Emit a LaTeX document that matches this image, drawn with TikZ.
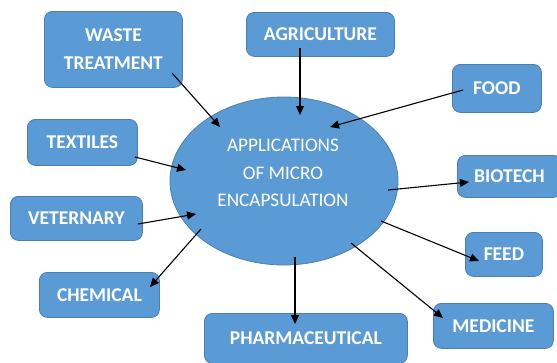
\documentclass[tikz,border=0pt]{standalone}
\usepackage{fontspec}
\setmainfont{Carlito}
\usetikzlibrary{arrows.meta,shapes.geometric}
\definecolor{boxfill}{HTML}{5B9BD5}
\definecolor{boxline}{HTML}{4A7EB0}
\begin{document}
\begin{tikzpicture}[x=1pt,y=-1pt,
  field/.style={draw=boxline,line width=0.8pt,fill=boxfill,rounded corners=8pt,
    text=white,font=\fontsize{19.5}{28}\selectfont\bfseries,align=center,
    inner sep=0pt,anchor=north west},
  hub/.style={draw=boxline,line width=0.8pt,fill=boxfill,ellipse,
    minimum width=228pt,minimum height=168pt,inner sep=0pt},
  hubtext/.style={text=white,font=\fontsize{19.2}{27.5}\selectfont,align=center,inner sep=0pt},
  arr/.style={-{Triangle[length=9pt,width=8pt]},line width=1.1pt,black}]
\useasboundingbox (0,0) rectangle (557,362);
\clip (0,0) rectangle (557,362);

% central ellipse and its title
\node[hub] (hub) at (284,181) {};
\node[hubtext] (title) at (283,173) {APPLICATIONS\\OF MICRO\\ENCAPSULATION};

% application boxes
\node[field,minimum width=138pt,minimum height=76pt] (waste) at (44,11) {WASTE\\TREATMENT};
\node[field,minimum width=148pt,minimum height=44pt] (agri) at (246,12) {AGRICULTURE};
\node[field,minimum width=89pt,minimum height=48pt] (food) at (452,64) {FOOD};
\node[field,minimum width=110pt,minimum height=46pt] (text) at (27,119) {TEXTILES};
\node[field,minimum width=104pt,minimum height=42pt] (bio) at (457,155) {BIOTECH};
\node[field,minimum width=132pt,minimum height=44pt] (vet) at (10,196) {VETERNARY};
\node[field,minimum width=77pt,minimum height=44pt] (feed) at (465,232) {FEED};
\node[field,minimum width=120pt,minimum height=45pt] (chem) at (39,272) {CHEMICAL};
\node[field,minimum width=203pt,minimum height=50pt] (pharm) at (204,313) {PHARMACEUTICAL};
\node[field,minimum width=120pt,minimum height=45pt] (med) at (433,303) {MEDICINE};

% arrow end points
\coordinate (wasteA) at (172,73);   \coordinate (wasteB) at (220,127);
\coordinate (agriA)  at (300,48);   \coordinate (agriB)  at (300,115);
\coordinate (foodA)  at (463,90);   \coordinate (foodB)  at (330,127);
\coordinate (textA)  at (135,157);  \coordinate (textB)  at (186,170);
\coordinate (vetA)   at (138,224);  \coordinate (vetB)   at (196,214);
\coordinate (bioA)   at (388,190);  \coordinate (bioB)   at (469,182);
\coordinate (chemA)  at (201,229);  \coordinate (chemB)  at (150,287);
\coordinate (feedA)  at (381,221);  \coordinate (feedB)  at (479,261);
\coordinate (pharmA) at (295,257);  \coordinate (pharmB) at (295,324);
\coordinate (medA)   at (351,243);  \coordinate (medB)   at (443,318);

% connectors
\draw[arr] (wasteA) -- (wasteB);
\draw[arr] (agriA) -- (agriB);
\draw[arr] (foodA) -- (foodB);
\draw[arr] (textA) -- (textB);
\draw[arr] (vetA) -- (vetB);
\draw[arr] (bioA) -- (bioB);
\draw[arr] (chemA) -- (chemB);
\draw[arr] (feedA) -- (feedB);
\draw[arr] (pharmA) -- (pharmB);
\draw[arr] (medA) -- (medB);
\end{tikzpicture}
\end{document}
